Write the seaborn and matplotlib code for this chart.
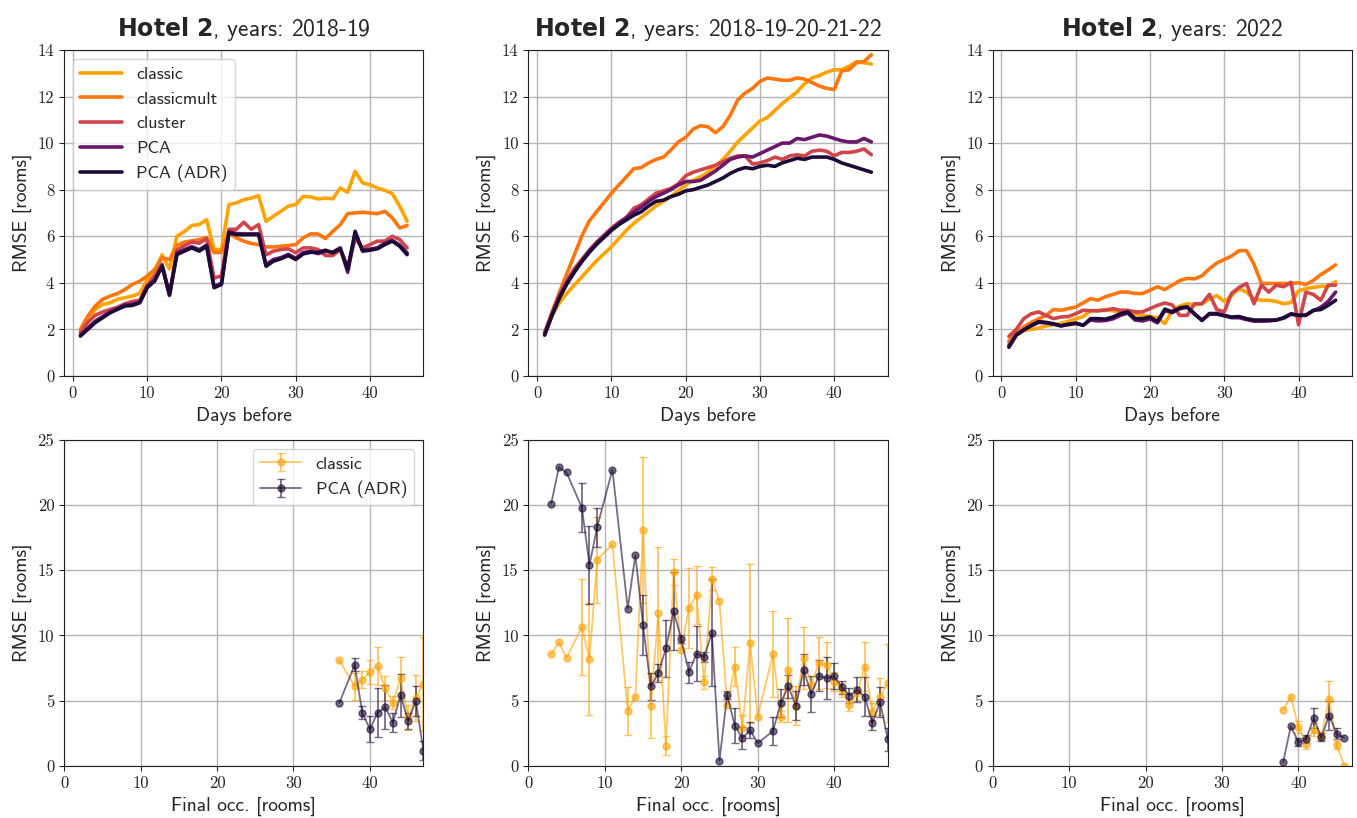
import numpy as np
import pandas as pd
import matplotlib
matplotlib.use("Agg")
import matplotlib.pyplot as plt
import seaborn as sns

# ---------------------------------------------------------------- data
days = list(range(1, 46))
methods = ["classic", "classicmult", "cluster", "PCA", "PCA (ADR)"]
colors = ["#ffa300", "#ff760f", "#d0454a", "#6a176e", "#1c0b36"]
year_labels = ["2018-19", "2018-19-20-21-22", "2022"]

# RMSE vs. days before arrival, years 2018-19
classic_a = [1.93, 2.36, 2.86, 3.07, 3.14, 3.29, 3.36, 3.43, 3.55, 4.14, 4.5, 5.2, 4.6, 6.0, 6.2,
             6.46, 6.5, 6.71, 5.43, 5.43, 7.36, 7.43, 7.57, 7.64, 7.74, 6.64, 6.86, 7.07, 7.29, 7.36,
             7.71, 7.69, 7.6, 7.64, 7.61, 8.07, 7.89, 8.79, 8.29, 8.21, 8.07, 7.97, 7.83, 7.29, 6.64]
classicmult_a = [2.0, 2.57, 3.0, 3.29, 3.43, 3.54, 3.71, 3.93, 4.07, 4.29, 4.57, 5.07, 5.0, 5.6, 5.75,
                 5.8, 5.85, 5.95, 5.3, 5.3, 6.14, 5.93, 5.79, 5.69, 5.64, 5.54, 5.54, 5.57, 5.6, 5.64,
                 5.93, 6.1, 6.1, 5.9, 6.21, 6.5, 6.97, 7.0, 7.03, 7.0, 6.97, 7.07, 6.79, 6.36, 6.46]
cluster_a = [1.85, 2.3, 2.6, 2.75, 2.85, 2.95, 3.1, 3.2, 3.25, 3.9, 4.3, 4.8, 3.5, 5.4, 5.6,
             5.75, 5.7, 5.9, 4.2, 4.3, 6.3, 6.3, 6.6, 6.3, 6.5, 5.2, 5.36, 5.43, 5.46, 5.29,
             5.5, 5.5, 5.43, 5.17, 5.17, 5.43, 4.7, 5.9, 5.5, 5.64, 5.79, 5.79, 6.0, 5.86, 5.5]
pca_a = [1.75, 2.05, 2.35, 2.55, 2.75, 2.9, 3.05, 3.08, 3.18, 3.85, 4.12, 4.75, 3.45, 5.28, 5.42,
         5.55, 5.42, 5.62, 3.85, 3.98, 6.2, 6.12, 6.1, 6.1, 6.1, 4.78, 5.0, 5.08, 5.22, 5.05,
         5.3, 5.35, 5.25, 5.35, 5.32, 5.5, 4.45, 6.1, 5.4, 5.45, 5.5, 5.7, 5.82, 5.62, 5.28]
pca_adr_a = [1.71, 2.0, 2.29, 2.5, 2.71, 2.86, 3.0, 3.03, 3.14, 3.79, 4.07, 4.71, 3.5, 5.21, 5.36,
             5.5, 5.36, 5.57, 3.79, 3.93, 6.14, 6.07, 6.07, 6.07, 6.07, 4.71, 4.93, 5.03, 5.17, 5.0,
             5.24, 5.31, 5.31, 5.4, 5.29, 5.47, 4.57, 6.21, 5.36, 5.4, 5.46, 5.64, 5.79, 5.57, 5.21]

# RMSE vs. days before arrival, years 2018-19-20-21-22
classic_b = [1.8, 2.6, 3.15, 3.55, 3.9, 4.25, 4.6, 4.95, 5.25, 5.55, 5.9, 6.25, 6.55, 6.8, 7.05,
             7.3, 7.5, 7.7, 7.95, 8.2, 8.4, 8.55, 8.75, 9.0, 9.3, 9.65, 10.05, 10.35, 10.65, 10.95,
             11.1, 11.4, 11.7, 11.95, 12.2, 12.55, 12.8, 12.9, 13.05, 13.15, 13.15, 13.3, 13.5, 13.45, 13.4]
classicmult_b = [1.85, 2.75, 3.6, 4.4, 5.2, 6.0, 6.65, 7.05, 7.45, 7.85, 8.2, 8.55, 8.9, 8.95, 9.15,
                 9.3, 9.4, 9.7, 10.05, 10.25, 10.6, 10.75, 10.7, 10.45, 10.7, 11.2, 11.85, 12.15, 12.35, 12.65,
                 12.8, 12.75, 12.7, 12.7, 12.8, 12.75, 12.6, 12.45, 12.35, 12.3, 13.1, 13.15, 13.45, 13.5, 13.8]
cluster_b = [1.85, 2.7, 3.5, 4.1, 4.6, 5.0, 5.4, 5.75, 6.05, 6.35, 6.6, 6.8, 7.2, 7.35, 7.6,
             7.85, 7.95, 8.05, 8.25, 8.6, 8.75, 8.85, 8.95, 9.05, 9.2, 9.35, 9.45, 9.45, 9.1, 9.15,
             9.25, 9.4, 9.3, 9.45, 9.5, 9.45, 9.65, 9.7, 9.65, 9.45, 9.6, 9.6, 9.65, 9.75, 9.5]
pca_b = [1.8, 2.65, 3.4, 4.0, 4.5, 4.95, 5.35, 5.7, 6.0, 6.3, 6.55, 6.8, 7.05, 7.25, 7.5,
         7.7, 7.85, 8.0, 8.2, 8.35, 8.35, 8.4, 8.6, 8.8, 9.05, 9.3, 9.4, 9.45, 9.4, 9.55,
         9.7, 9.85, 10.0, 10.0, 10.2, 10.15, 10.25, 10.35, 10.3, 10.2, 10.1, 10.05, 10.05, 10.2, 10.05]
pca_adr_b = [1.75, 2.6, 3.35, 3.95, 4.45, 4.9, 5.3, 5.65, 5.95, 6.25, 6.5, 6.7, 6.9, 7.05, 7.3,
             7.5, 7.55, 7.7, 7.8, 7.95, 8.0, 8.1, 8.2, 8.35, 8.5, 8.7, 8.85, 8.95, 8.9, 9.0,
             9.05, 9.0, 9.15, 9.25, 9.35, 9.3, 9.4, 9.4, 9.4, 9.3, 9.15, 9.05, 8.95, 8.85, 8.75]

# RMSE vs. days before arrival, year 2022
classic_c = [1.4, 1.75, 1.95, 2.0, 2.05, 2.15, 2.2, 2.25, 2.35, 2.45, 2.55, 2.8, 2.8, 2.85, 2.8,
             2.75, 2.7, 2.65, 2.6, 2.55, 2.5, 2.25, 2.8, 3.0, 3.1, 3.05, 3.1, 3.3, 3.45, 3.2,
             3.45, 3.75, 3.6, 3.3, 3.25, 3.25, 3.2, 3.1, 3.15, 3.65, 3.75, 3.8, 3.85, 3.85, 4.05]
classicmult_c = [1.5, 1.85, 2.1, 2.3, 2.45, 2.6, 2.85, 2.82, 2.89, 2.96, 3.14, 3.32, 3.25, 3.4, 3.5,
                 3.6, 3.6, 3.54, 3.54, 3.68, 3.83, 3.71, 3.9, 4.09, 4.19, 4.17, 4.3, 4.6, 4.85, 5.0,
                 5.15, 5.38, 5.38, 4.8, 3.97, 3.97, 3.97, 3.97, 3.97, 4.0, 3.93, 4.1, 4.35, 4.55, 4.77]
cluster_c = [1.7, 2.0, 2.46, 2.67, 2.75, 2.6, 2.46, 2.53, 2.55, 2.67, 2.82, 2.8, 2.8, 2.82, 2.89,
             2.82, 2.82, 2.75, 2.75, 2.89, 3.03, 3.13, 3.05, 2.6, 2.6, 3.1, 3.1, 3.5, 2.85, 2.75,
             3.55, 3.8, 3.97, 3.1, 3.9, 3.6, 3.9, 3.83, 4.02, 2.2, 3.6, 3.5, 3.25, 3.9, 3.9]
pca_c = [1.3, 1.78, 1.98, 2.15, 2.3, 2.28, 2.22, 2.15, 2.2, 2.25, 2.18, 2.4, 2.36, 2.38, 2.45,
         2.6, 2.7, 2.4, 2.36, 2.45, 2.28, 2.8, 2.72, 2.88, 2.95, 2.65, 2.4, 2.65, 2.65, 2.58,
         2.5, 2.5, 2.42, 2.35, 2.35, 2.36, 2.4, 2.48, 2.65, 2.6, 2.62, 2.8, 2.95, 3.2, 3.6]
pca_adr_c = [1.23, 1.75, 1.97, 2.17, 2.33, 2.3, 2.24, 2.15, 2.22, 2.27, 2.17, 2.46, 2.46, 2.44, 2.53,
             2.67, 2.75, 2.46, 2.46, 2.53, 2.33, 2.87, 2.75, 2.92, 2.97, 2.67, 2.38, 2.68, 2.68, 2.6,
             2.53, 2.55, 2.46, 2.4, 2.4, 2.4, 2.4, 2.5, 2.67, 2.6, 2.6, 2.82, 2.85, 3.03, 3.25]

nan = np.nan

# RMSE vs. final occupancy (mean and spread), 2018-19
occ_a = [36, 38, 39, 40, 41, 42, 43, 44, 45, 46, 47]
occ_classic_a = [8.1, 6.1, 6.6, 7.2, 7.65, 5.96, 4.82, 6.7, 3.7, 5.2, 6.3]
occ_classic_err_a = [nan, 1.05, 0.65, 0.9, 1.45, 0.9, 0.5, 1.65, 0.95, 1.75, 3.6]
occ_adr_a = [4.82, 7.73, 4.07, 2.8, 4.07, 4.5, 3.3, 5.4, 3.45, 4.95, 1.16]
occ_adr_err_a = [nan, 0.5, 0.5, 1.0, 1.9, 1.7, 0.75, 1.65, 0.6, 1.15, 0.7]

# RMSE vs. final occupancy, 2018-19-20-21-22
occ_b = [3, 4, 5, 7, 8, 9, 11, 13, 14, 15, 16, 17, 18, 19, 20, 21, 22, 23, 24, 25, 26,
         27, 28, 29, 30, 32, 33, 34, 35, 36, 37, 38, 39, 40, 41, 42, 43, 44, 45, 46, 47]
occ_classic_b = [8.56, 9.46, 8.26, 10.64, 8.18, 15.8, 16.97, 4.2, 5.3, 18.1, 4.6, 11.7, 1.54, 14.85,
                 8.9, 12.1, 13.1, 6.4, 14.35, 12.6, 4.67, 7.6, 2.9, 9.4, 3.77, 8.56, 3.77, 7.36,
                 4.6, 8.26, 6.2, 7.87, 7.74, 6.46, 5.82, 4.67, 5.56, 7.6, 4.15, 5.3, 6.33]
occ_classic_err_b = [nan, nan, nan, 3.7, 4.3, 3.3, nan, 1.85, nan, 5.6, 2.5, 5.1, 0.75, 1.0,
                     nan, 3.1, 2.2, 0.5, 0.9, nan, nan, 1.5, 1.0, 6.1, nan, 3.3, 0.45, 4.0,
                     1.5, 2.4, nan, 2.0, 1.75, 0.7, 0.55, 0.45, 0.5, 1.9, 0.65, 1.4, 3.0]
occ_adr_b = [20.1, 22.9, 22.5, 19.8, 15.4, 18.3, 22.7, 12.05, 16.15, 10.8, 6.08, 7.1, 9.0, 11.85,
             9.7, 7.18, 8.6, 8.33, 10.2, 0.38, 5.44, 3.08, 2.1, 2.74, 1.72, 2.67, 4.8, 6.08,
             4.6, 7.36, 5.49, 6.9, 6.72, 6.85, 6.03, 5.38, 5.82, 5.3, 3.26, 4.92, 2.03]
occ_adr_err_b = [nan, nan, nan, 1.9, 3.0, 1.5, nan, nan, nan, 2.3, 1.0, 0.7, 2.2, 3.0,
                 0.3, 0.8, 2.1, 0.4, 4.1, nan, 0.3, 1.35, 0.85, 0.6, nan, 1.1, 1.05, 0.9,
                 1.1, 1.2, 1.4, 1.2, 1.6, 1.0, 0.5, 0.55, 0.95, 1.5, 0.55, 1.15, 0.9]

# RMSE vs. final occupancy, 2022
occ_c = [38, 39, 40, 41, 42, 43, 44, 45, 46]
occ_classic_c = [4.3, 5.28, 2.97, 1.7, 2.77, 2.26, 5.13, 1.6, 0.0]
occ_classic_err_c = [nan, nan, 0.45, 0.45, 0.5, 0.3, 1.4, 0.3, nan]
occ_adr_c = [0.26, 3.03, 1.8, 2.05, 3.64, 2.18, 3.85, 2.46, 2.13]
occ_adr_err_c = [nan, nan, 0.3, 0.3, 0.75, 0.3, 1.1, 0.4, nan]

# ---------------------------------------------------------------- style
sns.set_style("ticks", {"axes.grid": True, "grid.color": "#b5b5b5",
                        "axes.edgecolor": "#222222"})
plt.rcParams["font.family"] = ["cmss10", "DejaVu Sans"]
plt.rcParams["mathtext.fontset"] = "custom"
plt.rcParams["mathtext.bf"] = "DejaVu Sans:bold"
plt.rcParams["axes.unicode_minus"] = False
plt.rcParams["grid.linewidth"] = 1.0

palette = dict(zip(methods, colors))

fig, axes = plt.subplots(2, 3, figsize=(13.57, 8.18), dpi=100)
fig.subplots_adjust(left=0.0472, right=0.9963, top=0.9389, bottom=0.0639,
                    wspace=0.2917, hspace=0.196)

top_series = [
    [classic_a, classicmult_a, cluster_a, pca_a, pca_adr_a],
    [classic_b, classicmult_b, cluster_b, pca_b, pca_adr_b],
    [classic_c, classicmult_c, cluster_c, pca_c, pca_adr_c],
]
bottom_series = [
    (occ_a, occ_classic_a, occ_classic_err_a, occ_adr_a, occ_adr_err_a),
    (occ_b, occ_classic_b, occ_classic_err_b, occ_adr_b, occ_adr_err_b),
    (occ_c, occ_classic_c, occ_classic_err_c, occ_adr_c, occ_adr_err_c),
]

label_size = 14
for col in range(3):
    # --- RMSE against days before arrival
    ax = axes[0, col]
    frames = [pd.DataFrame({"day": days, "rmse": vals, "method": m})
              for m, vals in zip(methods, top_series[col])]
    df = pd.concat(frames, ignore_index=True)
    sns.lineplot(data=df, x="day", y="rmse", hue="method", hue_order=methods,
                 palette=palette, linewidth=2.6, errorbar=None, ax=ax,
                 legend=(col == 0))
    ax.set_ylim(0, 14)
    ax.set_yticks(range(0, 15, 2))
    ax.set_xticks(range(0, 41, 10))
    ax.set_xlabel("Days before", fontsize=label_size)
    ax.set_ylabel("RMSE [rooms]", fontsize=label_size)
    ax.set_title(r"$\mathbf{Hotel\ 2}$, years: " + year_labels[col],
                 fontsize=17, pad=10)
    if col == 0:
        h, l = ax.get_legend_handles_labels()
        ax.legend(h, l, loc="upper left", fontsize=13, handlelength=2.3,
                  framealpha=0.8)

    # --- RMSE against final occupancy
    ax = axes[1, col]
    occ, cl, cl_err, adr, adr_err = bottom_series[col]
    ax.errorbar(occ, cl, yerr=cl_err, fmt="-o", color=colors[0], alpha=0.6,
                markersize=5, linewidth=1.3, elinewidth=1.3, capsize=3,
                label="classic")
    ax.errorbar(occ, adr, yerr=adr_err, fmt="-o", color=colors[4], alpha=0.6,
                markersize=5, linewidth=1.3, elinewidth=1.3, capsize=3,
                label="PCA (ADR)")
    ax.set_xlim(0, 47)
    ax.set_ylim(0, 25)
    ax.set_xticks(range(0, 41, 10))
    ax.set_yticks(range(0, 26, 5))
    ax.set_xlabel("Final occ. [rooms]", fontsize=label_size)
    ax.set_ylabel("RMSE [rooms]", fontsize=label_size)
    if col == 0:
        ax.legend(loc="upper right", fontsize=13, handlelength=2.3,
                  framealpha=0.8)

for ax in axes.flat:
    ax.tick_params(labelsize=12, labelfontfamily="cmr10")

fig.savefig("out.png", dpi=100)
